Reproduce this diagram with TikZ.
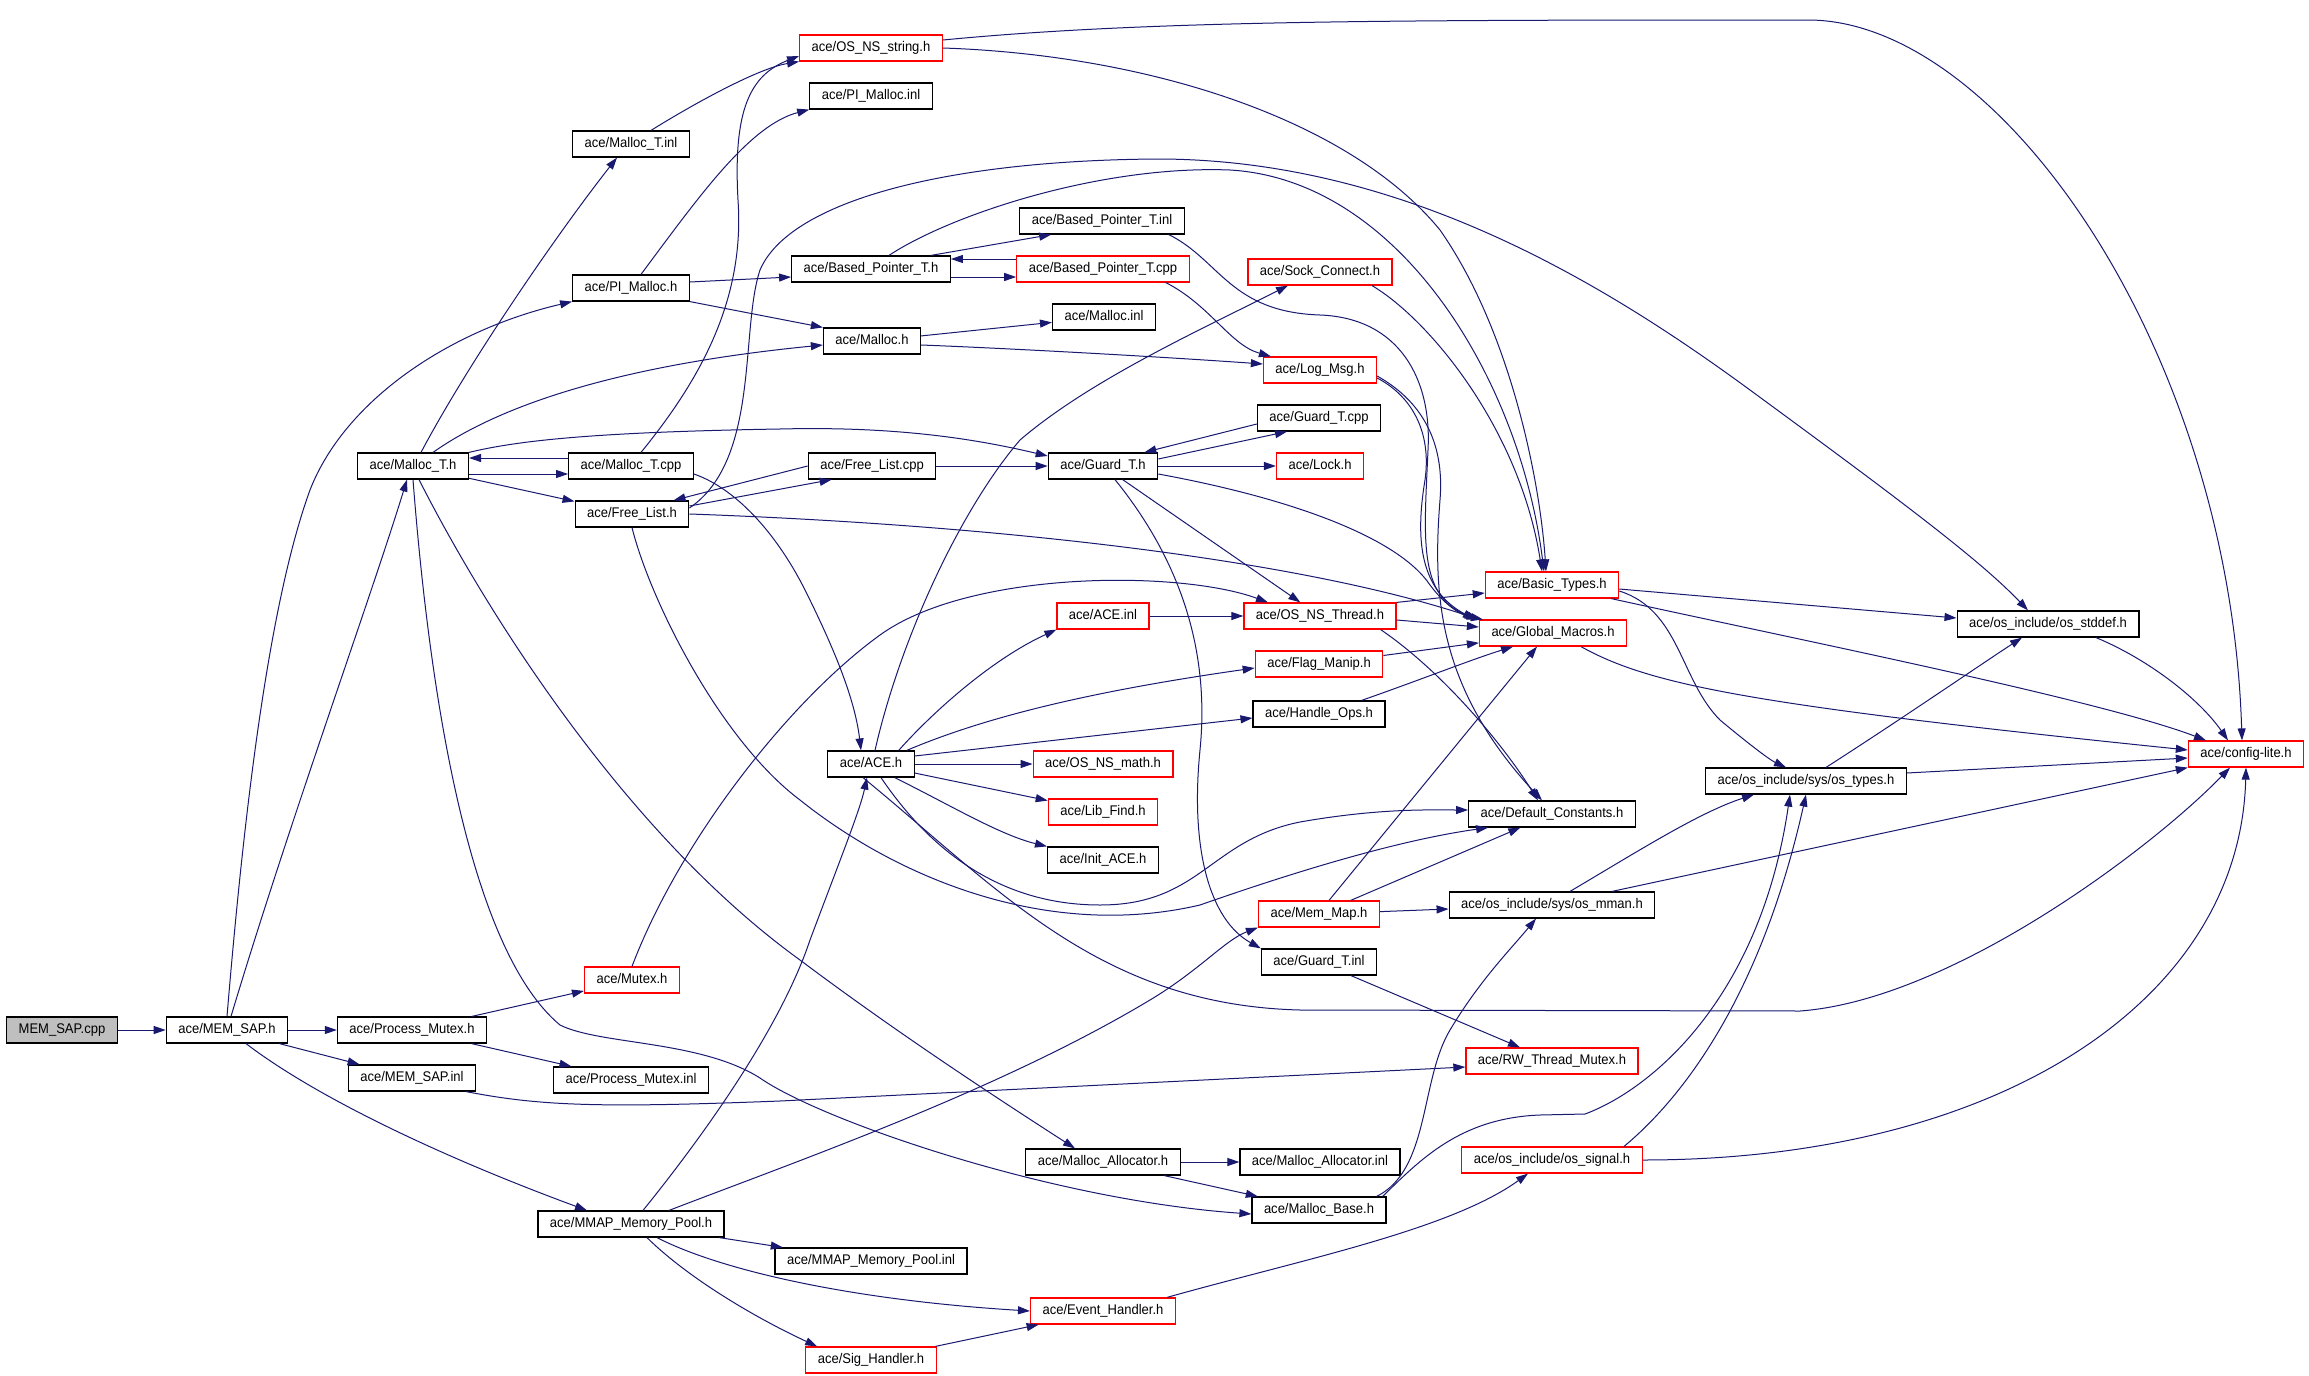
\documentclass[tikz,border=0pt]{standalone}
\usepackage{fontspec}
\setmainfont{Liberation Sans}[FakeStretch=0.93]
\usetikzlibrary{arrows.meta}
\definecolor{edgeblue}{HTML}{191970}
\definecolor{filered}{HTML}{FF0000}
\definecolor{filegray}{HTML}{BFBFBF}

\begin{document}
\begin{tikzpicture}[x=0.5pt, y=-0.5pt, font=\fontsize{7}{8.4}\selectfont,
	file/.style={draw=black, line width=0.6pt, rectangle, fill=white, inner xsep=6pt, inner ysep=0pt, minimum height=13pt, text height=5.2pt, text depth=1.6pt},
	redfile/.style={file, draw=filered},
	rootfile/.style={file, fill=filegray},
	dep/.style={draw=edgeblue, line width=0.5pt, -{Triangle[length=6pt,width=4pt]}}]
	\useasboundingbox (0,0) rectangle (2309,1376);
	\fill[white] (0,0) rectangle (2309,1376);
	\node[rootfile] (memsapcpp) at (62,1030) {MEM\_SAP.cpp};
	\node[file] (memsaph) at (227,1030) {ace/MEM\_SAP.h};
	\node[file] (procmutexh) at (412,1030) {ace/Process\_Mutex.h};
	\node[file] (memsapinl) at (412,1078) {ace/MEM\_SAP.inl};
	\node[redfile] (mutexh) at (632,980) {ace/Mutex.h};
	\node[file] (procmutexinl) at (631,1080) {ace/Process\_Mutex.inl};
	\node[file] (mmaph) at (631,1224) {ace/MMAP\_Memory\_Pool.h};
	\node[file] (malloctinl) at (631,144) {ace/Malloc\_T.inl};
	\node[file] (pimalloch) at (631,288) {ace/PI\_Malloc.h};
	\node[file] (malloctcpp) at (631,466) {ace/Malloc\_T.cpp};
	\node[file] (mallocth) at (413,466) {ace/Malloc\_T.h};
	\node[file] (freelisth) at (632,514) {ace/Free\_List.h};
	\node[redfile] (osnsstring) at (871,48) {ace/OS\_NS\_string.h};
	\node[file] (pimallocinl) at (871,96) {ace/PI\_Malloc.inl};
	\node[file] (bptrh) at (871,269) {ace/Based\_Pointer\_T.h};
	\node[file] (malloch) at (872,341) {ace/Malloc.h};
	\node[file] (freelistcpp) at (872,466) {ace/Free\_List.cpp};
	\node[file] (aceh) at (871,764) {ace/ACE.h};
	\node[file] (mmapinl) at (871,1261) {ace/MMAP\_Memory\_Pool.inl};
	\node[redfile] (sigh) at (871,1360) {ace/Sig\_Handler.h};
	\node[file] (bptrinl) at (1102,221) {ace/Based\_Pointer\_T.inl};
	\node[redfile] (bptrcpp) at (1103,269) {ace/Based\_Pointer\_T.cpp};
	\node[file] (mallocinl) at (1104,317) {ace/Malloc.inl};
	\node[file] (guardth) at (1103,466) {ace/Guard\_T.h};
	\node[redfile] (aceinl) at (1103,616) {ace/ACE.inl};
	\node[redfile] (osnsmath) at (1103,764) {ace/OS\_NS\_math.h};
	\node[redfile] (libfind) at (1103,812) {ace/Lib\_Find.h};
	\node[file] (initace) at (1103,860) {ace/Init\_ACE.h};
	\node[file] (mallocalloch) at (1103,1162) {ace/Malloc\_Allocator.h};
	\node[redfile] (eventh) at (1103,1311) {ace/Event\_Handler.h};
	\node[redfile] (sockconn) at (1320,272) {ace/Sock\_Connect.h};
	\node[redfile] (logmsg) at (1320,370) {ace/Log\_Msg.h};
	\node[file] (guardtcpp) at (1319,418) {ace/Guard\_T.cpp};
	\node[redfile] (lockh) at (1320,466) {ace/Lock.h};
	\node[redfile] (osnsthread) at (1320,616) {ace/OS\_NS\_Thread.h};
	\node[redfile] (flagmanip) at (1319,664) {ace/Flag\_Manip.h};
	\node[file] (handleops) at (1319,714) {ace/Handle\_Ops.h};
	\node[redfile] (memmap) at (1319,914) {ace/Mem\_Map.h};
	\node[file] (guardtinl) at (1319,962) {ace/Guard\_T.inl};
	\node[file] (mallocallocinl) at (1320,1162) {ace/Malloc\_Allocator.inl};
	\node[file] (mallocbase) at (1319,1210) {ace/Malloc\_Base.h};
	\node[redfile] (basictypes) at (1552,585) {ace/Basic\_Types.h};
	\node[redfile] (globalmacros) at (1553,633) {ace/Global\_Macros.h};
	\node[file] (defconst) at (1552,814) {ace/Default\_Constants.h};
	\node[file] (osmman) at (1552,905) {ace/os\_include/sys/os\_mman.h};
	\node[redfile] (rwmutex) at (1552,1061) {ace/RW\_Thread\_Mutex.h};
	\node[redfile] (ossignal) at (1552,1160) {ace/os\_include/os\_signal.h};
	\node[file] (ostypes) at (1806,781) {ace/os\_include/sys/os\_types.h};
	\node[file] (osstddef) at (2048,624) {ace/os\_include/os\_stddef.h};
	\node[redfile] (configlite) at (2246,754) {ace/config-lite.h};

	\draw[dep] (memsapcpp) -- (memsaph);
	\draw[dep] (memsaph) -- (procmutexh);
	\draw[dep] (memsaph) -- (memsapinl);
	\draw[dep] ([xshift=9.5pt]memsaph.south) .. controls (320,1100) and (450,1160) .. ([xshift=-22pt]mmaph.north);
	\draw[dep] (memsaph.north) .. controls (245,800) and (270,600) .. (310,490) .. controls (345,400) and (450,330) .. (pimalloch.south west);
	\draw[dep] ([xshift=2pt]memsaph.north) .. controls (290,820) and (370,600) .. ([xshift=-3pt]mallocth.south);
	\draw[dep] (procmutexh) -- (mutexh);
	\draw[dep] (procmutexh) -- (procmutexinl);
	\draw[dep] ([xshift=-5pt]memsapinl.south east) .. controls (540,1106) and (600,1108) .. (780,1101) -- ([yshift=-3pt]rwmutex.west);
	\draw[dep] (mutexh.north) .. controls (680,840) and (790,700) .. (880,635) .. controls (970,570) and (1180,570) .. ([xshift=-26pt]osnsthread.north);

	\draw[dep] ([xshift=4pt]mallocth.north) .. controls (470,360) and (560,230) .. ([xshift=-7pt]malloctinl.south);
	\draw[dep] ([yshift=-4pt]mallocth.east) -- ([yshift=-4pt]malloctcpp.west);
	\draw[dep] ([yshift=4pt]malloctcpp.west) -- ([yshift=4pt]mallocth.east);
	\draw[dep] (mallocth) -- (freelisth);
	\draw[dep] ([xshift=10pt]mallocth.north) .. controls (500,405) and (620,365) .. ([yshift=-2pt]malloch.west);
	\draw[dep] (mallocth.north east) .. controls (520,440) and (600,432) .. (780,429) .. controls (900,426) and (980,440) .. ([yshift=5pt]guardth.west);
	\draw[dep] ([xshift=3pt]mallocth.south) .. controls (480,600) and (620,830) .. (800,960) .. controls (900,1035) and (1000,1100) .. ([xshift=-14pt]mallocalloch.north);
	\draw[dep] (mallocth.south) .. controls (430,700) and (470,950) .. (560,1025) .. controls (600,1045) and (700,1040) .. (760,1078) .. controls (820,1120) and (1050,1200) .. ([yshift=-2pt]mallocbase.west);
	\draw[dep] ([xshift=5pt]malloctcpp.north) .. controls (700,380) and (745,300) .. (738,200) .. controls (733,110) and (750,75) .. ([yshift=-4pt]osnsstring.west);
	\draw[dep] ([xshift=10pt]malloctinl.north) .. controls (700,100) and (760,68) .. (osnsstring.south west);
	\draw[dep] ([xshift=5pt]pimalloch.north) .. controls (700,195) and (750,125) .. (pimallocinl.south west);
	\draw[dep] ([yshift=3pt]pimalloch.east) -- ([yshift=-4pt]bptrh.west);
	\draw[dep] (pimalloch.south east) -- (malloch.north west);
	\draw[dep] ([yshift=-4pt]malloctcpp.east) .. controls (740,490) and (780,540) .. (805,590) .. controls (835,650) and (855,700) .. ([xshift=-5pt]aceh.north);

	\draw[dep] ([yshift=4pt]freelisth.east) -- ([xshift=12pt]freelistcpp.south west);
	\draw[dep] (freelistcpp.west) -- ([xshift=-8pt]freelisth.north east);
	\draw[dep] (freelistcpp) -- (guardth);
	\draw[dep] (freelisth.east) .. controls (1000,525) and (1300,560) .. (globalmacros.north west);
	\draw[dep] (freelisth.south) .. controls (650,600) and (720,740) .. (800,800) .. controls (900,880) and (1050,940) .. (1200,905) .. controls (1300,870) and (1400,840) .. ([xshift=10pt]defconst.south west);
	\draw[dep] ([yshift=3pt]freelisth.east) .. controls (760,460) and (740,330) .. (760,270) .. controls (790,200) and (950,160) .. (1160,159) .. controls (1400,160) and (1600,280) .. (1750,390) .. controls (1900,500) and (1980,560) .. ([xshift=-10pt]osstddef.north);

	\draw[dep] ([yshift=4pt]osnsstring.east) .. controls (1150,20) and (1400,20) .. (1808,20) .. controls (2000,20) and (2230,350) .. ([xshift=-2pt]configlite.north);
	\draw[dep] (osnsstring.east) .. controls (1150,55) and (1350,120) .. (1440,230) .. controls (1510,330) and (1540,480) .. ([xshift=-3pt]basictypes.north);
	\draw[dep] ([xshift=9pt]bptrh.north) .. controls (950,215) and (1100,165) .. (1230,170) .. controls (1400,180) and (1520,380) .. ([xshift=-4pt]basictypes.north);
	\draw[dep] ([xshift=26pt]sockconn.south) .. controls (1430,320) and (1520,430) .. ([xshift=-5pt]basictypes.north);
	\draw[dep] ([xshift=2pt]aceh.north) .. controls (900,640) and (960,510) .. (1020,440) .. controls (1090,380) and (1200,330) .. ([xshift=-16pt]sockconn.south);

	\draw[dep] ([yshift=3.5pt]guardth.east) -- ([xshift=-16pt]guardtcpp.south);
	\draw[dep] ([yshift=-3pt]guardtcpp.west) -- ([xshift=-7pt]guardth.north east);
	\draw[dep] (guardth) -- (lockh);
	\draw[dep] (guardth) -- (osnsthread);
	\draw[dep] ([yshift=-4pt]guardth.east) .. controls (1300,500) and (1400,540) .. (1430,585) .. controls (1445,605) and (1460,615) .. ([xshift=2pt]globalmacros.north west);
	\draw[dep] ([xshift=6pt]guardth.south) .. controls (1180,560) and (1210,650) .. (1200,750) .. controls (1190,850) and (1210,920) .. (guardtinl.north west);

	\draw[dep] (aceinl) -- (osnsthread);
	\draw[dep] ([xshift=-8pt]aceh.north east) .. controls (930,715) and (990,660) .. (aceinl.south west);
	\draw[dep] ([xshift=-4pt]aceh.north east) .. controls (990,715) and (1100,690) .. ([yshift=-2pt]flagmanip.west);
	\draw[dep] ([yshift=4pt]aceh.east) -- ([yshift=-2pt]handleops.west);
	\draw[dep] (aceh) -- (osnsmath);
	\draw[dep] (aceh) -- (libfind);
	\draw[dep] ([xshift=-10pt]aceh.south east) .. controls (950,805) and (1000,835) .. (initace.north west);
	\draw[dep] ([xshift=5pt]aceh.south) .. controls (930,850) and (1000,905) .. (1100,905) .. controls (1200,905) and (1210,840) .. (1300,822) .. controls (1380,808) and (1430,810) .. ([yshift=2pt]defconst.west);
	\draw[dep] ([xshift=-4pt]aceh.south) .. controls (1000,890) and (1100,1005) .. (1300,1010) -- (1800,1011) .. controls (1950,1000) and (2150,850) .. ([xshift=-8pt]configlite.south);

	\draw[dep] (osnsthread.north east) -- ([yshift=-4pt]basictypes.west);
	\draw[dep] ([yshift=-2pt]osnsthread.east) -- ([yshift=3pt]globalmacros.west);
	\draw[dep] ([xshift=-8pt]osnsthread.south east) .. controls (1440,670) and (1500,740) .. ([xshift=-7pt]defconst.north);
	\draw[dep] (flagmanip) -- (globalmacros);
	\draw[dep] ([xshift=-12pt]handleops.north east) .. controls (1420,680) and (1470,660) .. ([xshift=-20pt]globalmacros.south);
	\draw[dep] ([xshift=5pt]memmap.north) -- ([xshift=-8pt]globalmacros.south);
	\draw[dep] (memmap) -- (defconst);
	\draw[dep] (memmap) -- (osmman);
	\draw[dep] ([yshift=-4pt]logmsg.east) .. controls (1410,395) and (1432,430) .. (1425,480) .. controls (1415,540) and (1420,590) .. ([xshift=-2pt]globalmacros.north west);
	\draw[dep] ([yshift=-3pt]logmsg.east) .. controls (1420,400) and (1445,440) .. (1440,500) .. controls (1432,600) and (1440,690) .. ([xshift=-5pt]defconst.north);
	\draw[dep] ([xshift=-8pt]bptrinl.south east) .. controls (1220,260) and (1230,312) .. (1320,315) .. controls (1400,318) and (1432,380) .. (1428,450) .. controls (1424,540) and (1418,595) .. ([xshift=-1pt]globalmacros.north west);

	\draw[dep] ([xshift=-10pt]bptrh.north east) -- ([xshift=16pt]bptrinl.south west);
	\draw[dep] ([yshift=-4pt]bptrh.east) -- ([yshift=-4pt]bptrcpp.west);
	\draw[dep] ([yshift=5pt]bptrcpp.west) -- ([yshift=5pt]bptrh.east);
	\draw[dep] ([xshift=-12pt]bptrcpp.south east) .. controls (1210,305) and (1230,345) .. ([xshift=4pt]logmsg.north west);
	\draw[dep] (malloch) -- (mallocinl);
	\draw[dep] ([yshift=-2pt]malloch.east) .. controls (1000,348) and (1150,356) .. ([yshift=3pt]logmsg.west);

	\draw[dep] ([yshift=-2pt]basictypes.east) -- ([yshift=3pt]osstddef.west);
	\draw[dep] ([xshift=-4pt]basictypes.south east) .. controls (1800,640) and (2100,700) .. ([xshift=-20pt]configlite.north);
	\draw[dep] ([yshift=-3pt]basictypes.east) .. controls (1680,610) and (1680,680) .. (1720,720) .. controls (1750,745) and (1770,760) .. ([xshift=-10pt]ostypes.north);
	\draw[dep] ([xshift=14pt]globalmacros.south) .. controls (1650,685) and (1750,705) .. ([yshift=2pt]configlite.west);
	\draw[dep] ([xshift=24pt]osstddef.south) .. controls (2150,660) and (2200,700) .. ([xshift=-9pt]configlite.north);
	\draw[dep] ([xshift=10pt]ostypes.north) .. controls (1900,720) and (1980,665) .. ([xshift=-13pt]osstddef.south);
	\draw[dep] ([yshift=4pt]ostypes.east) -- ([yshift=-2pt]configlite.west);
	\draw[dep] ([xshift=9pt]osmman.north) .. controls (1640,850) and (1700,812) .. ([xshift=-26pt]ostypes.south);
	\draw[dep] ([xshift=30pt]osmman.north) -- (configlite.south west);
	\draw[dep] ([xshift=-5pt]mallocbase.north east) .. controls (1430,1170) and (1420,1080) .. (1450,1030) .. controls (1480,980) and (1510,950) .. ([xshift=-8pt]osmman.south);
	\draw[dep] ([xshift=-2pt]mallocbase.north east) .. controls (1420,1160) and (1460,1118) .. (1540,1115) -- (1585,1114) .. controls (1650,1090) and (1760,1000) .. ([xshift=-8pt]ostypes.south);
	\draw[dep] ([xshift=36pt]ossignal.north) .. controls (1680,1100) and (1760,1000) .. (ostypes.south);
	\draw[dep] (ossignal.east) .. controls (2000,1160) and (2240,1000) .. (configlite.south);

	\draw[dep] (mallocalloch) -- (mallocallocinl);
	\draw[dep] (mallocalloch) -- (mallocbase);
	\draw[dep] (guardtinl) -- (rwmutex);
	\draw[dep] ([xshift=6pt]mmaph.north) .. controls (700,1140) and (780,1030) .. (810,940) .. controls (840,860) and (860,810) .. ([xshift=-2pt]aceh.south);
	\draw[dep] ([xshift=19pt]mmaph.north) .. controls (800,1160) and (1000,1090) .. (1150,1000) .. controls (1200,970) and (1225,940) .. (memmap.south west);
	\draw[dep] (mmaph) -- (mmapinl);
	\draw[dep] ([xshift=13pt]mmaph.south) .. controls (720,1270) and (850,1300) .. (eventh.west);
	\draw[dep] ([xshift=8pt]mmaph.south) .. controls (690,1280) and (760,1320) .. ([xshift=6pt]sigh.north west);
	\draw[dep] (sigh) -- (eventh);
	\draw[dep] ([xshift=32pt]eventh.north) .. controls (1300,1260) and (1450,1230) .. ([xshift=-12pt]ossignal.south);
\end{tikzpicture}
\end{document}
